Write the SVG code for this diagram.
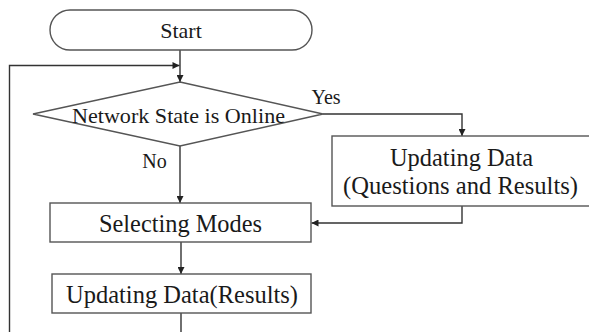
<svg xmlns="http://www.w3.org/2000/svg" width="589" height="332" viewBox="0 0 589 332">
  <defs>
    <marker id="arr" viewBox="0 0 10 10" refX="10" refY="5" markerWidth="8" markerHeight="7" markerUnits="userSpaceOnUse" orient="auto">
      <path d="M0,0 L10,5 L0,10 z" fill="#222"/>
    </marker>
  </defs>
  <style>
    .shape { fill: #fff; stroke: #555; stroke-width: 1.4; }
    .line { fill: none; stroke: #333; stroke-width: 1.4; }
    text { font-family: "Liberation Serif", "Times New Roman", serif; fill: #1a1a1a; text-anchor: middle; }
    .big { font-size: 25px; }
    .mid { font-size: 22px; }
    .lbl { font-size: 20px; }
  </style>
  <rect width="589" height="332" fill="#fff"/>

  <g id="connectors">
    <path class="line" d="M180,50 V82" marker-end="url(#arr)"/>
    <path class="line" d="M9.5,332 V65.5 H179.5" marker-end="url(#arr)"/>
    <path class="line" d="M180,146 V203" marker-end="url(#arr)"/>
    <path class="line" d="M323,114 H462 V136" marker-end="url(#arr)"/>
    <path class="line" d="M462,206 V223 H311.5" marker-end="url(#arr)"/>
    <path class="line" d="M181,242 V274" marker-end="url(#arr)"/>
    <path class="line" d="M181,313 V332"/>
    <text class="lbl" x="326" y="104">Yes</text>
    <text class="lbl" x="154.5" y="168">No</text>
  </g>

  <g id="start">
    <rect class="shape" x="50" y="10" width="262" height="40" rx="20" ry="20"/>
    <text class="mid" x="181" y="38">Start</text>
  </g>

  <g id="network-state">
    <polygon class="shape" points="180,82 323,114 180,146 33,114"/>
    <text class="mid" x="178.5" y="122.5" textLength="213" lengthAdjust="spacingAndGlyphs">Network State is Online</text>
  </g>

  <g id="updating-qr">
    <rect class="shape" x="332" y="136" width="260" height="70"/>
    <text class="big" x="461.5" y="166" textLength="143" lengthAdjust="spacingAndGlyphs">Updating Data</text>
    <text class="big" x="460.5" y="194" textLength="235" lengthAdjust="spacingAndGlyphs">(Questions and Results)</text>
  </g>

  <g id="selecting-modes">
    <rect class="shape" x="50" y="203" width="261" height="39"/>
    <text class="big" x="180.5" y="231.5" textLength="163" lengthAdjust="spacingAndGlyphs">Selecting Modes</text>
  </g>

  <g id="updating-results">
    <rect class="shape" x="52" y="274" width="259" height="39"/>
    <text class="big" x="182" y="303" textLength="232" lengthAdjust="spacingAndGlyphs">Updating Data(Results)</text>
  </g>
</svg>
